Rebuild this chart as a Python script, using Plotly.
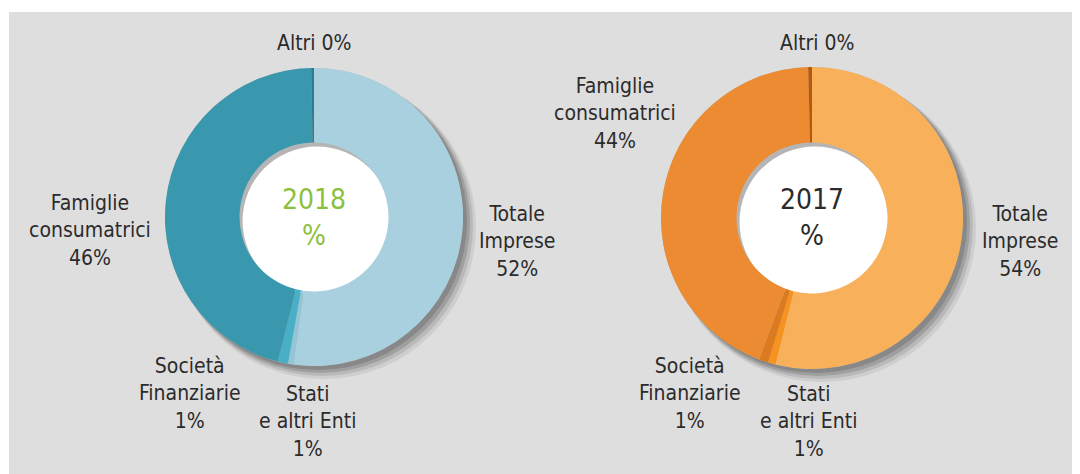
import plotly.graph_objects as go

W, H = 1080, 474
OX, OY = 8, 8  # page margin around the figure

# data
categories = ["Totale Imprese", "Stati e altri Enti", "Società Finanziarie", "Famiglie consumatrici", "Altri"]
values_2018 = [52.2, 0.6, 1.1, 45.8, 0.3]
values_2017 = [53.9, 0.8, 1.0, 43.9, 0.4]
labels_2018 = ["Totale<br>Imprese<br>52%", "Stati<br>e altri Enti<br>1%", "Società<br>Finanziarie<br>1%",
               "Famiglie<br>consumatrici<br>46%", "Altri 0%"]
labels_2017 = ["Totale<br>Imprese<br>54%", "Stati<br>e altri Enti<br>1%", "Società<br>Finanziarie<br>1%",
               "Famiglie<br>consumatrici<br>44%", "Altri 0%"]
colors_2018 = ["#a9d0de", "#93c5d4", "#48afc6", "#3a98ae", "#2d7b8d"]
colors_2017 = ["#f8b05b", "#f7921f", "#dc7a1e", "#ec8b31", "#b8580f"]

FONT = "Liberation Sans Narrow, DejaVu Sans Condensed, Arial Narrow, sans-serif"
TXT = "#2b2b2b"


def dom(cx, cy, r):
    cx, cy = cx - OX, cy - OY
    return dict(x=[(cx - r) / W, (cx + r) / W], y=[1 - (cy + r) / H, 1 - (cy - r) / H])


def donut(fig, cx, cy, r, vals, cols, hole=0.5):
    # soft drop shadow
    for k, (off, op) in enumerate([(10, 0.10), (8, 0.15), (6, 0.22), (4, 0.25)]):
        fig.add_trace(go.Pie(values=[1], domain=dom(cx + off, cy + off, r + 3 - k), sort=False,
                             marker=dict(colors=["#444444"], line=dict(width=0)), opacity=op,
                             textinfo="none", hoverinfo="skip", showlegend=False))
    # inner shadow of the hole
    fig.add_trace(go.Pie(values=[1], domain=dom(cx, cy, r), sort=False,
                         marker=dict(colors=["#b5b5b5"], line=dict(width=0)),
                         textinfo="none", hoverinfo="skip", showlegend=False))
    fig.add_trace(go.Pie(values=[1], domain=dom(cx + 3, cy + 4, r * hole), sort=False,
                         marker=dict(colors=["#ffffff"], line=dict(width=0)),
                         textinfo="none", hoverinfo="skip", showlegend=False))
    fig.add_trace(go.Pie(labels=categories, values=vals, domain=dom(cx, cy, r), hole=hole,
                         sort=False, direction="clockwise", rotation=0,
                         marker=dict(colors=cols, line=dict(width=0)),
                         textinfo="none", hoverinfo="label+percent", showlegend=False))


fig = go.Figure()
donut(fig, 314, 217, 149, values_2018, colors_2018)
donut(fig, 812, 218, 151, values_2017, colors_2017)


def ann(px, py, text, size=21, color=TXT):
    fig.add_annotation(x=(px - OX) / W, y=1 - (py - OY) / H, xref="paper", yref="paper", text=text,
                       showarrow=False, xanchor="center", yanchor="middle", align="center",
                       font=dict(family=FONT, size=size, color=color))


# labels: Totale, Stati, Società, Famiglie, Altri
pos_2018 = [(517, 241), (307, 421), (190, 393), (90, 230), (314, 43)]
pos_2017 = [(1020, 241), (808, 421), (690, 393), (615, 114), (817, 43)]
for (px, py), t in zip(pos_2018, labels_2018):
    ann(px, py, t)
for (px, py), t in zip(pos_2017, labels_2017):
    ann(px, py, t)

ann(314, 217, "2018<br>%", size=28, color="#8dbf3f")
ann(812, 217, "2017<br>%", size=28, color="#2b2b2b")

fig.update_layout(
    width=W, height=H,
    margin=dict(l=0, r=0, t=0, b=0),
    paper_bgcolor="white",
    plot_bgcolor="white",
    shapes=[dict(type="rect", xref="paper", yref="paper", x0=(9 - OX) / W, x1=1, y0=0, y1=1 - (12 - OY) / H,
                 fillcolor="#dedede", line=dict(width=0), layer="below")],
)

fig.write_html("out.html")
